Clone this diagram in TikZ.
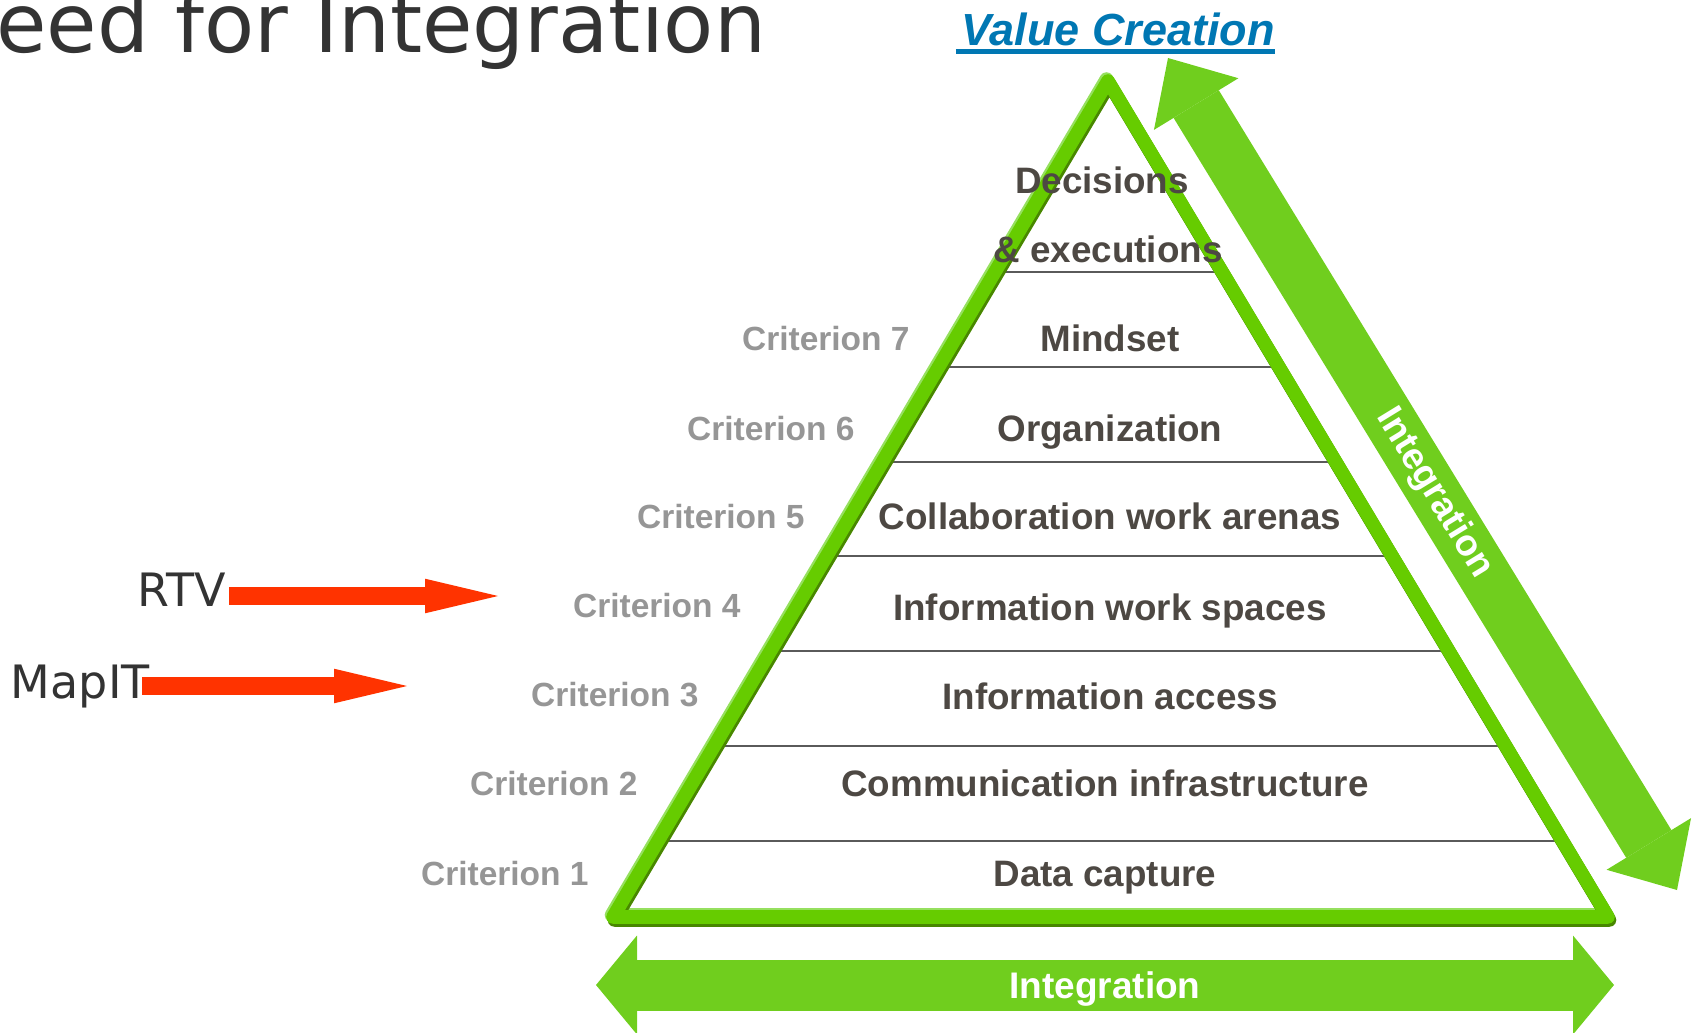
\documentclass[tikz,border=0pt]{standalone}
\usepackage{fontspec}
\setmainfont{Liberation Sans}
\newfontfamily\slidefont{DejaVu Sans}
\usetikzlibrary{arrows.meta,calc}

\definecolor{pyrgreen}{RGB}{102,204,0}
\definecolor{pyrdark}{RGB}{72,135,0}
\definecolor{pyrlight}{RGB}{150,224,95}
\definecolor{intgreen}{RGB}{112,206,30}
\definecolor{laytext}{RGB}{77,72,67}
\definecolor{critgray}{RGB}{150,150,150}
\definecolor{sepgray}{RGB}{90,90,90}
\definecolor{vcblue}{RGB}{0,119,179}
\definecolor{slidegray}{RGB}{51,51,51}
\definecolor{rtvred}{RGB}{255,51,0}

\begin{document}
\begin{tikzpicture}[x=0.5pt, y=-0.5pt,
    layer/.style={anchor=base, inner sep=0pt, text=laytext, font=\bfseries\fontsize{18.4pt}{22pt}\selectfont},
    crit/.style={anchor=base east, inner sep=0pt, text=critgray, font=\bfseries\fontsize{16.75pt}{20pt}\selectfont},
    sidelabel/.style={inner sep=1.5pt, text=slidegray, font=\slidefont\fontsize{23pt}{27pt}\selectfont},
    intlabel/.style={inner sep=0pt, text=white, font=\bfseries\fontsize{18.5pt}{22pt}\selectfont},
    sepline/.style={draw=sepgray, line width=0.6pt},
    pyredge/.style={draw=pyrgreen, line width=6.8pt, line join=round},
    pyrshadow/.style={draw=pyrdark, line width=6.8pt, line join=round},
    pyrshine/.style={draw=pyrlight, line width=6.8pt, line join=round},
    redarrow/.style={draw=rtvred, line width=8.8pt, -{Triangle[length=36.5pt, width=17.3pt, line width=0pt]}},
    greenarrow/.style={draw=intgreen, {Triangle[length=#1, width=49.5pt, line width=0pt]}-{Triangle[length=#1, width=49.5pt, line width=0pt]}}
  ]
  \useasboundingbox (0,0) rectangle (1694,1033);

  % heading and top label
  \node [anchor=base west, inner sep=0pt, text=slidegray, font=\slidefont\fontsize{41pt}{48pt}\selectfont] (title) at (-4,53) {eed for Integration};
  \node [anchor=base, inner sep=0pt, text=vcblue, font=\bfseries\itshape\fontsize{22.5pt}{27pt}\selectfont] (vc) at (1118,45.4) {Value Creation};
  \draw [vcblue, line width=2.25pt] ([xshift=-2.5pt, yshift=-3pt]vc.base west) -- ([yshift=-3pt]vc.base east);

  % pyramid
  \coordinate (apex) at (1108,81);
  \coordinate (bl) at (613,917);
  \coordinate (br) at (1608,917);

  \foreach \t in {0.2285,0.3421,0.4557,0.5682,0.6818,0.7955,0.9091}
    \draw [sepline] ($(apex)!\t!(bl)$) -- ($(apex)!\t!(br)$);

  \draw [pyrshine] ([shift={(-1.5,-2)}]apex) -- ([shift={(-1.5,-2)}]bl) -- ([shift={(-1.5,-2)}]br) -- cycle;
  \draw [pyrshadow] ([shift={(1.5,3)}]apex) -- ([shift={(1.5,3)}]bl) -- ([shift={(1.5,3)}]br) -- cycle;
  \draw [pyredge] (apex) -- (bl) -- (br) -- cycle;

  % integration arrows
  \coordinate (itop) at (1168,58);
  \coordinate (ibot) at (1677,890);
  \draw [greenarrow=27pt, line width=26.5pt] (itop) -- node [intlabel, sloped, pos=0.523] {Integration} (ibot);

  \coordinate (ileft) at (596,985);
  \coordinate (iright) at (1614,985);
  \draw [greenarrow=20.5pt, line width=25.5pt] (ileft) -- node [intlabel, yshift=-1.9pt] {Integration} (iright);

  % layers
  \node [layer] (dec) at (1102,193) {Decisions};
  \node [layer] (exe) at (1108,262) {\& executions};
  \node [layer] (mind) at (1110,351) {Mindset};
  \node [layer] (org) at (1110,441) {Organization};
  \node [layer] (collab) at (1110,529) {Collaboration work arenas};
  \node [layer] (iws) at (1110,620) {Information work spaces};
  \node [layer] (iacc) at (1110,709) {Information access};
  \node [layer] (comm) at (1105,796) {Communication infrastructure};
  \node [layer] (data) at (1105,886) {Data capture};

  % criteria
  \node [crit] (c7) at (910,350) {Criterion 7};
  \node [crit] (c6) at (855,440) {Criterion 6};
  \node [crit] (c5) at (805,528) {Criterion 5};
  \node [crit] (c4) at (741,617) {Criterion 4};
  \node [crit] (c3) at (699,706) {Criterion 3};
  \node [crit] (c2) at (638,795) {Criterion 2};
  \node [crit] (c1) at (589,885) {Criterion 1};

  % tools
  \node [sidelabel, anchor=base east] (rtv) at (229,606) {RTV};
  \node [sidelabel, anchor=base west] (mapit) at (7.5,698) {MapIT};
  \coordinate (rtvtip) at (498,596);
  \coordinate (maptip) at (407,686);
  \draw [redarrow] (rtv.east |- rtvtip) -- (rtvtip);
  \draw [redarrow] (mapit.east |- maptip) ++(-11,0) -- (maptip);
\end{tikzpicture}
\end{document}
